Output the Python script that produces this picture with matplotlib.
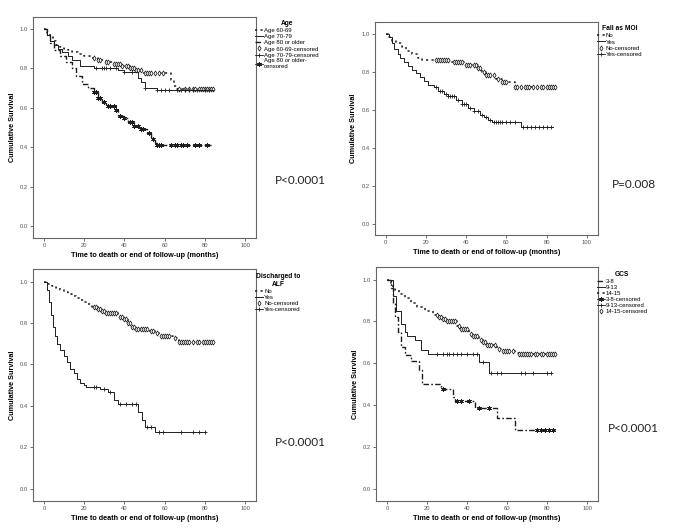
import numpy as np
import matplotlib
matplotlib.use("Agg")
import matplotlib.pyplot as plt
from matplotlib.lines import Line2D

plt.rcParams['font.family'] = ['Liberation Sans', 'DejaVu Sans']

# ---------------- Age ----------------
age1_t = [0, 1.5, 3, 4.5, 6, 8, 10, 12, 14, 17, 20, 23, 27, 31, 35, 39, 43, 46, 49, 63, 64.5, 66]
age1_s = [1.0, 0.98, 0.96, 0.94, 0.92, 0.91, 0.90, 0.89, 0.88, 0.87, 0.86, 0.85, 0.84, 0.83, 0.82, 0.81, 0.80, 0.79, 0.775, 0.74, 0.71, 0.695]
age1_c = [25, 27, 28, 31, 32, 35, 36, 37, 38, 39, 41, 42, 43, 44, 45, 46, 47, 48, 50, 51, 52, 53, 55, 57, 59, 67,
          70, 72, 74, 75, 77, 78, 79, 80, 81, 82, 83, 84]
age2_t = [0, 1.5, 3, 5, 7, 9, 12, 14, 18, 25, 37, 40, 47, 48, 50, 56]
age2_s = [1.0, 0.97, 0.94, 0.92, 0.90, 0.88, 0.86, 0.84, 0.81, 0.80, 0.79, 0.78, 0.75, 0.73, 0.70, 0.69]
age2_c = [26, 29, 30, 31, 33, 36, 40, 44, 50, 56, 58, 60, 62, 66, 68, 70, 72, 74, 76, 80, 82]
age3_t = [0, 1.5, 3, 5, 8, 11, 14, 16, 19, 22, 25, 27, 29, 31, 36, 37, 40, 42, 45, 48, 51, 53, 55, 56]
age3_s = [1.0, 0.97, 0.93, 0.89, 0.86, 0.83, 0.80, 0.76, 0.72, 0.70, 0.68, 0.65, 0.63, 0.61, 0.59, 0.56, 0.55, 0.53,
          0.51, 0.49, 0.47, 0.44, 0.42, 0.41]
age3_c = [25, 26, 27, 28, 30, 32, 33, 35, 36, 38, 40, 43, 44, 45, 47, 48, 49, 52, 54, 56, 57, 58, 63, 65, 66, 68, 69,
          71, 75, 77, 81]

# ---------------- Fall as MOI ----------------
fall_no_t = [0, 1, 3, 5, 8, 10, 13, 16, 18, 33, 39, 46, 48, 50, 55, 58, 64]
fall_no_s = [1.0, 0.98, 0.96, 0.95, 0.93, 0.91, 0.89, 0.87, 0.86, 0.85, 0.835, 0.82, 0.80, 0.78, 0.76, 0.745, 0.72]
fall_no_c = [25, 26, 27, 28, 29, 30, 31, 34, 35, 36, 37, 38, 40, 41, 42, 44, 45, 46, 47, 49, 50, 51, 52, 54, 56, 58,
             59, 60, 64, 65, 67, 69, 70, 71, 73, 75, 77, 78, 80, 81, 82, 83, 84]
fall_yes_t = [0, 1.5, 3, 4, 6, 7, 9, 11, 13, 15, 17, 19, 21, 24, 26, 29, 31, 35, 38, 41, 44, 47, 49, 51, 53, 67]
fall_yes_s = [1.0, 0.98, 0.95, 0.92, 0.89, 0.87, 0.85, 0.83, 0.81, 0.79, 0.77, 0.75, 0.73, 0.72, 0.70, 0.68, 0.67,
              0.65, 0.63, 0.61, 0.59, 0.57, 0.56, 0.545, 0.535, 0.51]
fall_yes_c = [25, 27, 28, 30, 31, 32, 33, 34, 36, 38, 39, 40, 42, 44, 46, 48, 50, 52, 54, 55, 56, 57, 58, 60, 62, 64,
              68, 70, 72, 74, 76, 78, 80, 82]

# ---------------- Discharged to ALF ----------------
alf_no_t = [0, 2, 4, 6, 8, 10, 12, 14, 16, 18, 20, 22, 24, 27, 29, 31, 37, 38, 40, 42, 44, 46, 52, 55, 57, 64, 66, 67]
alf_no_s = [1.0, 0.99, 0.98, 0.97, 0.96, 0.95, 0.94, 0.93, 0.92, 0.91, 0.90, 0.89, 0.88, 0.87, 0.86, 0.85, 0.84,
            0.83, 0.82, 0.80, 0.78, 0.77, 0.76, 0.75, 0.74, 0.73, 0.72, 0.71]
alf_no_c = [25, 26, 27, 28, 29, 30, 31, 32, 33, 34, 35, 36, 38, 39, 40, 41, 42, 43, 44, 45, 46, 47, 48, 49, 50, 51,
            53, 54, 56, 58, 59, 60, 61, 62, 65, 67, 68, 69, 70, 71, 72, 74, 76, 77, 79, 80, 81, 82, 83, 84]
alf_yes_t = [0, 1.5, 2.5, 3.5, 4.5, 5.5, 6.5, 8, 10, 11.5, 13, 15, 16.5, 18, 20, 21, 28, 32, 35, 37, 47, 48.5, 50, 55]
alf_yes_s = [1.0, 0.96, 0.90, 0.84, 0.78, 0.74, 0.70, 0.67, 0.64, 0.61, 0.58, 0.56, 0.53, 0.51, 0.50, 0.49, 0.48,
             0.465, 0.43, 0.41, 0.37, 0.33, 0.30, 0.275]
alf_yes_c = [25, 26, 30, 33, 38, 41, 44, 46, 51, 53, 57, 59, 68, 74, 77, 80]

# ---------------- GCS ----------------
gcs1_t = [0, 2, 3, 4, 5.5, 7, 9, 12, 16, 17.5, 27, 33, 34, 44, 55, 64]
gcs1_s = [1.0, 0.96, 0.89, 0.82, 0.75, 0.68, 0.64, 0.61, 0.57, 0.50, 0.475, 0.44, 0.42, 0.385, 0.34, 0.28]
gcs1_c = [28, 35, 37, 41, 46, 51, 75, 77, 79, 81, 83]
gcs2_t = [0, 3, 4.5, 7, 9, 10, 14, 17, 20.5, 46, 51]
gcs2_s = [1.0, 0.92, 0.85, 0.79, 0.75, 0.73, 0.71, 0.665, 0.645, 0.605, 0.555]
gcs2_c = [25, 28, 30, 31, 33, 35, 37, 40, 43, 45, 48, 52, 55, 57, 67, 69, 73, 80, 82]
gcs3_t = [0, 2, 4, 6, 9, 12, 15, 19, 23, 26, 28, 30, 35, 37, 41, 43, 46, 48, 50, 55, 57, 64, 66]
gcs3_s = [1.0, 0.97, 0.95, 0.93, 0.91, 0.89, 0.87, 0.85, 0.83, 0.82, 0.81, 0.80, 0.78, 0.765, 0.74, 0.73, 0.71,
          0.70, 0.685, 0.67, 0.66, 0.65, 0.645]
gcs3_c = [25, 26, 27, 28, 29, 30, 31, 32, 33, 34, 36, 37, 38, 39, 40, 42, 43, 44, 45, 47, 48, 49, 50, 51, 52, 54,
          56, 58, 59, 60, 61, 63, 66, 67, 68, 69, 70, 71, 72, 74, 75, 77, 78, 80, 81, 82, 83, 84]

INK = '#1e1e1e'
DOT = (0, (1.4, 2.2))
SOLID = '-'
DASHDOT = (0, (4, 1.6, 1.2, 1.6))
DIAMOND = dict(marker='d', ms=2.6, mfc='white', mec=INK, mew=0.55)
PLUS = dict(marker='+', ms=3.4, mec=INK, mew=0.6)
STAR = dict(marker=(6, 2, 0), ms=3.4, mec=INK, mew=0.55)


def km(ax, t, s, c, ls, lw, cm, end):
    t = np.asarray(t, float)
    s = np.asarray(s, float)
    ax.step(np.append(t, end), np.append(s, s[-1]), where='post', color=INK, ls=ls, lw=lw)
    c = np.asarray(c, float)
    idx = np.searchsorted(t, c, side='right') - 1
    ax.plot(c, s[idx], ls='none', **cm)


def style(ax):
    ax.set_xlim(-5.5, 105.5)
    ax.set_ylim(-0.06, 1.06)
    ax.set_xticks([0, 20, 40, 60, 80, 100])
    ax.set_yticks([0.0, 0.2, 0.4, 0.6, 0.8, 1.0])
    ax.set_yticklabels(['0.0', '0.2', '0.4', '0.6', '0.8', '1.0'])
    ax.tick_params(labelsize=4.2, length=2, width=0.6, colors='#555555', pad=1.5)
    for sp in ax.spines.values():
        sp.set_color('#666666')
        sp.set_linewidth(0.8)
    ax.set_xlabel('Time to death or end of follow-up (months)', fontsize=5.2, fontweight='bold', labelpad=3)
    ax.set_ylabel('Cumulative Survival', fontsize=5.2, fontweight='bold', labelpad=3)


def leg(ax, title, items):
    hs = []
    labs = []
    for lab, ls, lw, cm in items:
        if cm is None:
            hs.append(Line2D([], [], color=INK, ls=ls, lw=lw))
        else:
            hs.append(Line2D([], [], color=INK, ls=ls, lw=lw, **cm))
        labs.append(lab)
    lg = ax.legend(hs, labs, loc='upper left', bbox_to_anchor=(0.995, 0.985), frameon=False,
                   fontsize=4.3, handlelength=1.3, handletextpad=0.2, labelspacing=0.15,
                   borderaxespad=0, borderpad=0, title=title,
                   title_fontproperties={'size': 4.8, 'weight': 'bold'})
    lg._legend_box.align = 'center'
    lg.get_title().set_multialignment('center')


fig = plt.figure(figsize=(6.85, 5.28), dpi=100)
ax1 = fig.add_axes([0.048, 0.549, 0.326, 0.419])
ax2 = fig.add_axes([0.547, 0.555, 0.326, 0.403])
ax3 = fig.add_axes([0.048, 0.051, 0.326, 0.439])
ax4 = fig.add_axes([0.549, 0.051, 0.324, 0.443])

# Age
km(ax1, age1_t, age1_s, age1_c, DOT, 1.1, DIAMOND, 84)
km(ax1, age2_t, age2_s, age2_c, SOLID, 0.7, PLUS, 84)
km(ax1, age3_t, age3_s, age3_c, DASHDOT, 1.0, STAR, 83)
style(ax1)
leg(ax1, 'Age', [('Age 60-69', DOT, 1.1, None), ('Age 70-79', SOLID, 0.7, None),
                 ('Age 80 or older', DASHDOT, 1.0, None), ('Age 60-69-censored', 'none', 0.7, DIAMOND),
                 ('Age 70-79-censored', SOLID, 0.6, PLUS), ('Age 80 or older-\ncensored', SOLID, 0.6, STAR)])

# Fall as MOI
km(ax2, fall_no_t, fall_no_s, fall_no_c, DOT, 1.1, DIAMOND, 84)
km(ax2, fall_yes_t, fall_yes_s, fall_yes_c, SOLID, 0.7, PLUS, 83)
style(ax2)
leg(ax2, 'Fall as MOI', [('No', DOT, 1.1, None), ('Yes', SOLID, 0.7, None),
                         ('No-censored', 'none', 0.7, DIAMOND), ('Yes-censored', SOLID, 0.6, PLUS)])

# Discharged to ALF
km(ax3, alf_no_t, alf_no_s, alf_no_c, DOT, 1.1, DIAMOND, 84)
km(ax3, alf_yes_t, alf_yes_s, alf_yes_c, SOLID, 0.7, PLUS, 80)
style(ax3)
leg(ax3, 'Discharged to\nALF', [('No', DOT, 1.1, None), ('Yes', SOLID, 0.7, None),
                                ('No-censored', 'none', 0.7, DIAMOND), ('Yes-censored', SOLID, 0.6, PLUS)])

# GCS
km(ax4, gcs1_t, gcs1_s, gcs1_c, DASHDOT, 1.0, STAR, 84)
km(ax4, gcs2_t, gcs2_s, gcs2_c, SOLID, 0.7, PLUS, 82)
km(ax4, gcs3_t, gcs3_s, gcs3_c, DOT, 1.1, DIAMOND, 84)
style(ax4)
leg(ax4, 'GCS', [('3-8', DASHDOT, 1.0, None), ('9-13', SOLID, 0.7, None), ('14-15', DOT, 1.1, None),
                 ('3-8-censored', SOLID, 0.6, STAR), ('9-13-censored', SOLID, 0.6, PLUS),
                 ('14-15-censored', 'none', 0.7, DIAMOND)])

pfont = dict(fontsize=8.5, family=['Lato', 'DejaVu Sans'], ha='center', va='center', color='#222222')
fig.text(300 / 685, 1 - 181 / 528, 'P<0.0001', **pfont)
fig.text(634 / 685, 1 - 184 / 528, 'P=0.008', **pfont)
fig.text(300 / 685, 1 - 443 / 528, 'P<0.0001', **pfont)
fig.text(633 / 685, 1 - 429 / 528, 'P<0.0001', **pfont)

fig.savefig('out.png', dpi=100, facecolor='white')
